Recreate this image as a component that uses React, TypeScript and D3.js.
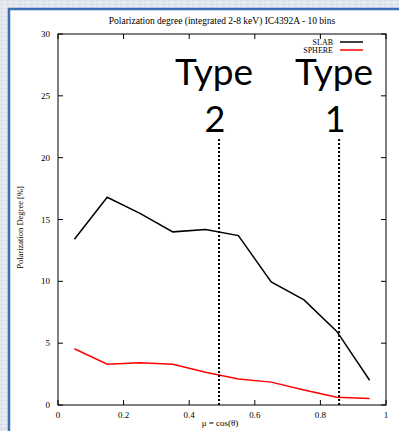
import React, { useEffect, useRef } from 'react';
import * as d3 from 'd3';

// bin centres of mu = cos(theta)
const muBins = [0.05, 0.15, 0.25, 0.35, 0.45, 0.55, 0.65, 0.75, 0.85, 0.95];
const slabValues = [13.4, 16.8, 15.5, 14.0, 14.2, 13.7, 9.95, 8.5, 5.95, 2.0];
const sphereValues = [4.55, 3.3, 3.42, 3.3, 2.65, 2.1, 1.85, 1.22, 0.62, 0.52];
const xTicks = [0, 0.2, 0.4, 0.6, 0.8, 1];
const yTicks = [0, 5, 10, 15, 20, 25, 30];
const typeMarkers = [
  { label: '2', mu: 0.491 },
  { label: '1', mu: 0.857 },
];

const App = () => {
  const ref = useRef<SVGSVGElement | null>(null);

  useEffect(() => {
    const width = 399;
    const height = 431;
    const margin = { left: 58, right: 13, top: 34, bottom: 26 };

    const svg = d3.select(ref.current);
    svg.selectAll('*').remove();

    // textured page background
    const defs = svg.append('defs');
    const pat = defs.append('pattern')
      .attr('id', 'bgtex')
      .attr('width', 6)
      .attr('height', 4)
      .attr('patternUnits', 'userSpaceOnUse');
    pat.append('rect').attr('width', 6).attr('height', 4).attr('fill', '#e3e7ed');
    pat.append('rect').attr('x', 0).attr('y', 0).attr('width', 3).attr('height', 1).attr('fill', '#d6dce5');
    pat.append('rect').attr('x', 3).attr('y', 2).attr('width', 3).attr('height', 1).attr('fill', '#edf0f4');

    svg.append('rect').attr('width', width).attr('height', height).attr('fill', 'url(#bgtex)');
    svg.append('rect')
      .attr('x', 9).attr('y', 9)
      .attr('width', width).attr('height', height)
      .attr('fill', '#fff')
      .attr('stroke', '#3d6db3')
      .attr('stroke-width', 2.5);

    const x = d3.scaleLinear().domain([0, 1]).range([margin.left, width - margin.right]);
    const y = d3.scaleLinear().domain([0, 30]).range([height - margin.bottom, margin.top]);

    const serif = '"Liberation Serif", "DejaVu Serif", serif';
    const x0 = x(0), x1 = x(1), y0 = y(0), y1 = y(30);

    // frame
    svg.append('rect')
      .attr('x', x0).attr('y', y1)
      .attr('width', x1 - x0).attr('height', y0 - y1)
      .attr('fill', 'none').attr('stroke', '#000').attr('stroke-width', 1);

    const tick = 5;
    xTicks.forEach(t => {
      svg.append('line').attr('x1', x(t)).attr('x2', x(t)).attr('y1', y0).attr('y2', y0 - tick).attr('stroke', '#000');
      svg.append('line').attr('x1', x(t)).attr('x2', x(t)).attr('y1', y1).attr('y2', y1 + tick).attr('stroke', '#000');
      svg.append('text')
        .attr('x', x(t)).attr('y', y0 + 13)
        .attr('text-anchor', 'middle')
        .attr('font-family', serif).attr('font-size', 9)
        .text(String(t));
    });
    yTicks.forEach(t => {
      svg.append('line').attr('x1', x0).attr('x2', x0 + tick).attr('y1', y(t)).attr('y2', y(t)).attr('stroke', '#000');
      svg.append('line').attr('x1', x1).attr('x2', x1 - tick).attr('y1', y(t)).attr('y2', y(t)).attr('stroke', '#000');
      svg.append('text')
        .attr('x', x0 - 8).attr('y', y(t) + 3)
        .attr('text-anchor', 'end')
        .attr('font-family', serif).attr('font-size', 9)
        .text(String(t));
    });

    // titles
    svg.append('text')
      .attr('x', (x0 + x1) / 2).attr('y', 24)
      .attr('text-anchor', 'middle')
      .attr('font-family', serif).attr('font-size', 9.5)
      .text('Polarization degree (integrated 2-8 keV) IC4392A - 10 bins');
    svg.append('text')
      .attr('x', (x0 + x1) / 2 - 2).attr('y', 426)
      .attr('text-anchor', 'middle')
      .attr('font-family', serif).attr('font-size', 9)
      .text('μ = cos(θ)');
    svg.append('text')
      .attr('transform', `translate(23,${(y0 + y1) / 2 + 8}) rotate(-90)`)
      .attr('text-anchor', 'middle')
      .attr('font-family', serif).attr('font-size', 8.5)
      .text('Polarization Degree [%]');

    const line = d3.line<number>()
      .x((_, i) => x(muBins[i]))
      .y(d => y(d));

    svg.append('path')
      .attr('d', line(slabValues))
      .attr('fill', 'none').attr('stroke', '#000').attr('stroke-width', 1.5);
    svg.append('path')
      .attr('d', line(sphereValues))
      .attr('fill', 'none').attr('stroke', '#ff0000').attr('stroke-width', 1.5);

    // legend
    const legend = [
      { name: 'SLAB', color: '#000' },
      { name: 'SPHERE', color: '#ff0000' },
    ];
    legend.forEach((l, i) => {
      const ly = 42 + i * 8;
      svg.append('text')
        .attr('x', 333).attr('y', ly + 3)
        .attr('text-anchor', 'end')
        .attr('font-family', serif).attr('font-size', 8)
        .text(l.name);
      svg.append('line')
        .attr('x1', 340).attr('x2', 363).attr('y1', ly).attr('y2', ly)
        .attr('stroke', l.color).attr('stroke-width', 1.5);
    });

    // type markers
    typeMarkers.forEach(m => {
      const mx = x(m.mu);
      svg.append('line')
        .attr('x1', mx).attr('x2', mx)
        .attr('y1', 139).attr('y2', y0)
        .attr('stroke', '#000').attr('stroke-width', 2)
        .attr('stroke-dasharray', '2,2');
      svg.append('text')
        .attr('x', mx - 5).attr('y', 85)
        .attr('text-anchor', 'middle')
        .attr('font-family', 'Lato, "Open Sans", sans-serif').attr('font-size', 37)
        .text('Type');
      svg.append('text')
        .attr('x', mx - 4).attr('y', 132)
        .attr('text-anchor', 'middle')
        .attr('font-family', 'Lato, "Open Sans", sans-serif').attr('font-size', 36)
        .text(m.label);
    });
  }, []);

  return (
    <svg
      ref={ref}
      width={399}
      height={431}
      style={{ position: 'fixed', left: 0, top: 0, display: 'block' }}
    />
  );
};

export default App;
